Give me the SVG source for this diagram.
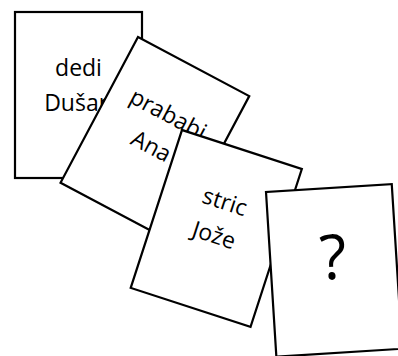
<svg xmlns="http://www.w3.org/2000/svg" width="398" height="356" viewBox="0 0 398 356">
<style>
.card{fill:#fff;stroke:#000;stroke-width:2.2}
.t{font-family:"Open Sans","Noto Sans",sans-serif;font-size:23px;text-anchor:middle;fill:#000}
.q{font-family:"Open Sans","Noto Sans",sans-serif;font-size:62px;text-anchor:middle;fill:#000}
</style>
<rect width="398" height="356" fill="#fff"/>
<g id="card-dedi-dusan" transform="translate(15,12)">
<rect class="card" x="0" y="0" width="127" height="166"/>
<text class="t" x="63.5" y="64">dedi</text>
<text class="t" x="63.5" y="99">Dušan</text>
</g>
<g id="card-prababi-ana" transform="translate(138,37) rotate(28)">
<rect class="card" x="0" y="0" width="126" height="165"/>
<text class="t" x="63" y="62">prababi</text>
<text class="t" x="63" y="98">Ana</text>
</g>
<g id="card-stric-joze" transform="translate(182,130) rotate(18)">
<rect class="card" x="0" y="0" width="126" height="166"/>
<text class="t" x="63" y="63">stric</text>
<text class="t" x="63" y="98">Jože</text>
</g>
<g id="card-unknown" transform="translate(266,192) rotate(-3.6)">
<rect class="card" x="0" y="0" width="126" height="165"/>
<text class="q" x="63" y="91">?</text>
</g>
<g id="connectors"/>
</svg>
